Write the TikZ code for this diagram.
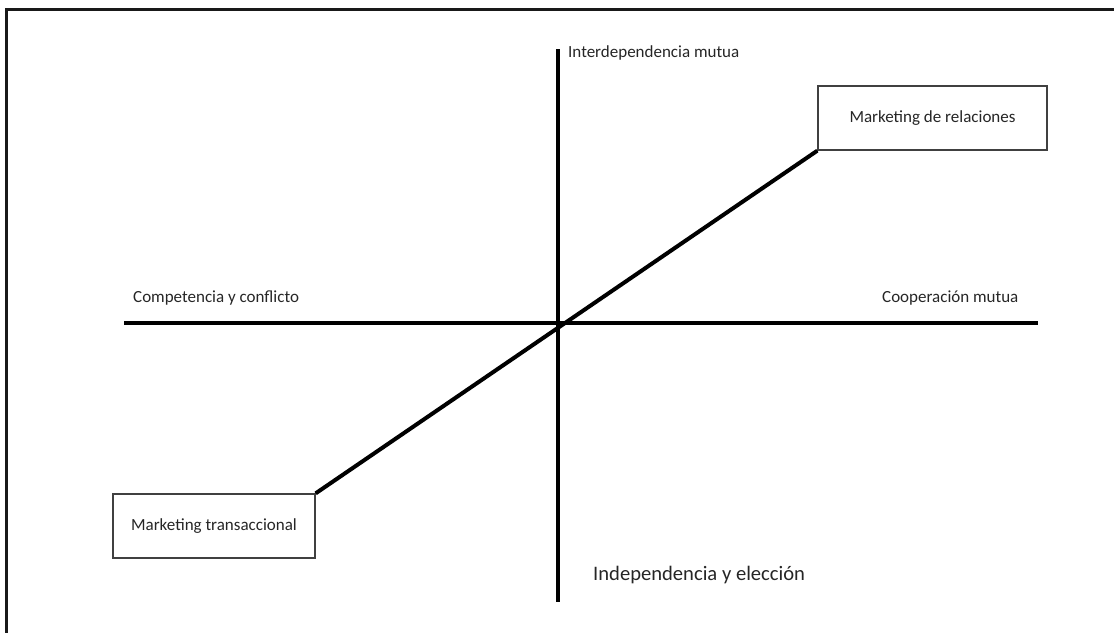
\documentclass[tikz,border=0pt]{standalone}
\usepackage{fontspec}
\setmainfont{Carlito}
\usetikzlibrary{positioning}

\begin{document}
\begin{tikzpicture}[
  x=1pt,y=-1pt,
  font=\fontsize{17}{20}\selectfont,
  box/.style={rectangle,draw=black!75,line width=1.3pt,fill=white,text=black!85,
    minimum width=229pt,minimum height=64pt,inner sep=0pt,align=center},
  axis/.style={line width=4.5pt,black},
  lbl/.style={anchor=west,text=black!85,inner sep=0pt}
]
\useasboundingbox (0,0) rectangle (1114,632);

% frame
\draw[line width=3pt,black!90] (6,640) -- (6,9) -- (1120,9);

% axes
\coordinate (top) at (558,49);
\coordinate (bottom) at (558,602);
\coordinate (left) at (124,323);
\coordinate (right) at (1038,323);
\draw[axis] (top) -- (bottom);
\draw[axis] (left) -- (right);

% boxes
\node[box] (rel) at (932.5,118) {Marketing de relaciones};
\node[box,minimum width=202pt] (trans) at (214,526) {Marketing transaccional};
\draw[axis,line width=4pt] (trans.north east) -- (rel.south west);

% axis labels
\node[lbl] (interdep) at (568,53) {Interdependencia mutua};
\node[lbl] (compet) at (133,298) {Competencia y conflicto};
\node[lbl] (coop) at (882,298) {Cooperación mutua};
\node[lbl,font=\fontsize{20.6}{24}\selectfont] (indep) at (593,575) {Independencia y elección};

\end{tikzpicture}
\end{document}
